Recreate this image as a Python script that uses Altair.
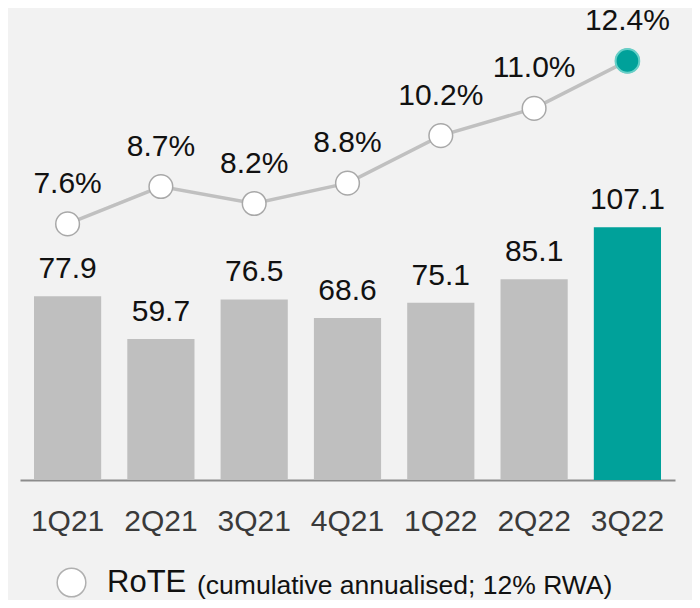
import altair as alt
import pandas as pd

quarters = ["1Q21", "2Q21", "3Q21", "4Q21", "1Q22", "2Q22", "3Q22"]
profit = [77.9, 59.7, 76.5, 68.6, 75.1, 85.1, 107.1]
rote = [7.6, 8.7, 8.2, 8.8, 10.2, 11.0, 12.4]
highlight = [False, False, False, False, False, False, True]
series_name = "RoTE"
legend_note = "(cumulative annualised; 12% RWA)"

df = pd.DataFrame({
    "quarter": quarters,
    "profit": profit,
    "rote": rote,
    "highlight": highlight,
    "series": [series_name] * len(quarters),
})

FONT = "Liberation Sans"
GREY_BAR = "#bfbfbf"
TEAL = "#00a19a"
TEXT = "#111111"

x = alt.X(
    "quarter:N",
    sort=quarters,
    scale=alt.Scale(paddingInner=0.28, paddingOuter=0.15),
    axis=alt.Axis(
        title=None, labelAngle=0, ticks=False, tickSize=0, grid=False,
        domainColor="#8c8c8c", domainWidth=2,
        labelFont=FONT, labelFontSize=30, labelColor="#3a3a3a",
        labelPadding=50, labelBaseline="alphabetic",
    ),
)

ybar = alt.Y("profit:Q", scale=alt.Scale(domain=[0, 200], nice=False, zero=True), axis=None)
yline = alt.Y("rote:Q", scale=alt.Scale(domain=[0.059, 13.957], nice=False, zero=False), axis=None)

base = alt.Chart(df)

bars = base.mark_bar().encode(
    x=x, y=ybar,
    color=alt.condition("datum.highlight", alt.value(TEAL), alt.value(GREY_BAR)),
)
bar_labels = base.mark_text(dy=-18, baseline="alphabetic", fontSize=30, font=FONT, color=TEXT).encode(
    x=x, y=ybar, text=alt.Text("profit:Q", format=".1f")
)

line = base.mark_line(color="#c0c0c0", strokeWidth=3.5).encode(x=x, y=yline)
points = base.mark_point(filled=True, stroke="#a8a8a8", strokeWidth=1.5, opacity=1).encode(
    x=x, y=yline,
    size=alt.condition("false", alt.value(820), alt.value(560)),
    fill=alt.Fill(
        "series:N",
        scale=alt.Scale(domain=[series_name], range=["white"]),
        legend=alt.Legend(
            title=None, orient="none", legendX=36, legendY=559,
            symbolType="circle", symbolSize=820,
            symbolStrokeColor="#b0b0b0", symbolStrokeWidth=1.5,
            labelFont=FONT, labelFontSize=31, labelColor=TEXT,
            labelOffset=20, padding=0,
        ),
    ),
)
teal_point = base.transform_filter("datum.highlight").mark_point(
    filled=True, size=560, fill=TEAL, stroke="#66d0c8", strokeWidth=2, opacity=1
).encode(x=x, y=yline)
pct_labels = base.transform_calculate(
    lbl="format(datum.rote, '.1f') + '%'"
).mark_text(dy=-31, baseline="alphabetic", fontSize=30, font=FONT, color=TEXT).encode(
    x=x, y=yline, text="lbl:N"
)

note = alt.Chart(pd.DataFrame({"t": [legend_note]})).mark_text(
    align="left", baseline="alphabetic", fontSize=26.5, font=FONT, color=TEXT
).encode(x=alt.value(177), y=alt.value(586), text="t:N")

bar_layer = alt.layer(bars, bar_labels)
line_layer = alt.layer(line, points, teal_point, pct_labels)

chart = alt.layer(bar_layer, line_layer, note).resolve_scale(y="independent").properties(
    width=655, height=472,
    background="#f2f2f2",
    padding={"left": 12, "top": 0, "right": 17, "bottom": 120},
    autosize=alt.AutoSizeParams(type="none"),
).configure_view(stroke=None)

chart.save("out.html", embed_options={"renderer": "svg", "actions": False})
